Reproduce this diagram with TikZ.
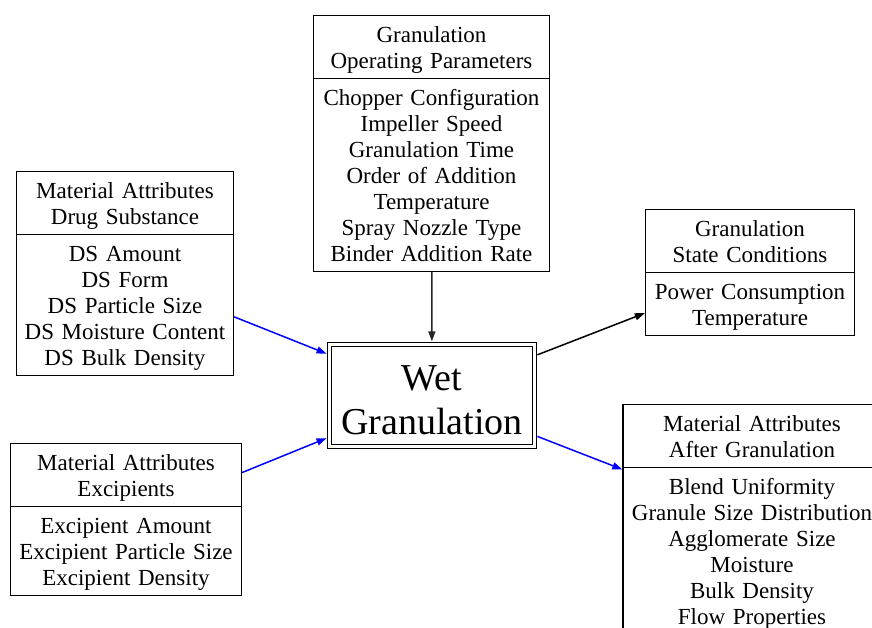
\documentclass[tikz,border=0pt]{standalone}
\usepackage{fontspec}
\setmainfont{Liberation Serif}
\usetikzlibrary{arrows.meta,shapes.multipart}

% gaps above the first and below the last line of a field
\newcommand{\topgap}{\rule{0pt}{24.5pt}}
\newcommand{\botgap}{\rule[-7pt]{0pt}{7pt}}
\newcommand{\partbreak}{\botgap\nodepart{two}\topgap}

\begin{document}
\begin{tikzpicture}[x=1pt,y=-1pt,
    attrbox/.style={rectangle split, rectangle split parts=2, draw, line width=1.3pt,
      align=center, font=\fontsize{23}{26}\selectfont, inner xsep=3pt, inner ysep=2pt, anchor=north,
      execute at begin node=\topgap, execute at end node=\botgap},
    wetbox/.style={draw, double, double distance=2.5pt, line width=1.2pt, align=center,
      minimum width=205pt, minimum height=102pt, font=\fontsize{38}{44}\selectfont},
    link/.style={line width=1.5pt, -{Triangle[length=10pt,width=7pt]}},
    inlink/.style={link, blue, shorten >=2.5pt},
    outlink/.style={link, shorten <=2.5pt}]
    \useasboundingbox (0,0) rectangle (872,628);
    \clip (0,0) rectangle (872,628);

    % Process in the middle
    \node[wetbox] (wet) at (432,395.5) {\rule{0pt}{35pt}Wet\\Granulation};

    % Top: operating parameters
    \node[attrbox, text width=230pt] (ops) at (431.5,15) {Granulation\\Operating Parameters%
      \partbreak Chopper Configuration\\Impeller Speed\\Granulation Time\\Order of Addition\\Temperature\\Spray Nozzle Type\\Binder Addition Rate};

    % Left side: input materials
    \node[attrbox, text width=211pt] (drug) at (125,171) {Material Attributes\\Drug Substance%
      \partbreak DS Amount\\DS Form\\DS Particle Size\\DS Moisture Content\\DS Bulk Density};
    \node[attrbox, text width=225pt] (excip) at (126,443) {Material Attributes\\Excipients%
      \partbreak Excipient Amount\\Excipient Particle Size\\Excipient Density};

    % Right side: outputs
    \node[attrbox, text width=203pt] (state) at (750,209) {Granulation\\State Conditions%
      \partbreak Power Consumption\\Temperature};
    \node[attrbox, text width=252pt] (after) at (752,404) {Material Attributes\\After Granulation%
      \partbreak Blend Uniformity\\Granule Size Distribution\\Agglomerate Size\\Moisture\\Bulk Density\\Flow Properties};

    % Connectors
    \draw[link, black!85, shorten >=2.5pt] (ops) -- (wet);
    \draw[inlink] (drug) -- (wet);
    \draw[inlink] (excip) -- (wet);
    \draw[outlink, black] (wet) -- (state);
    \draw[outlink, blue] (wet) -- (after);
\end{tikzpicture}
\end{document}
